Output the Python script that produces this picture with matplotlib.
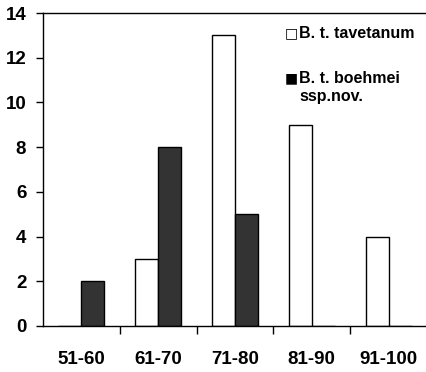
import numpy as np
import matplotlib
matplotlib.use('Agg')
from matplotlib import pyplot as plt

plt.rcParams['font.family'] = ['Liberation Sans', 'DejaVu Sans']
plt.rcParams['font.weight'] = 'bold'

# size classes and counts
classes = ['51-60', '61-70', '71-80', '81-90', '91-100']
tavetanum = [0, 3, 13, 9, 4]
boehmei = [2, 8, 5, 0, 0]

fig = plt.figure(figsize=(4.27, 3.72), dpi=100)
ax = fig.add_axes([0.1007, 0.1237, 0.8993, 0.8413])

x = np.arange(len(classes)) + 0.5
w = 0.3
ax.bar(x - w / 2, tavetanum, w, color='white', edgecolor='black', linewidth=1.0)
ax.bar(x + w / 2, boehmei, w, color='#333333', edgecolor='black', linewidth=1.0)

ax.set_xlim(0, len(classes))
ax.set_ylim(0, 14)
ax.set_yticks(range(0, 15, 2))
ax.set_xticks(range(1, len(classes)))
ax.set_xticklabels([])
ax.set_xticks(x, minor=True)
ax.set_xticklabels(classes, minor=True)
ax.tick_params(axis='x', which='major', direction='out', length=6, width=1)
ax.tick_params(axis='x', which='minor', length=0, pad=18, labelsize=13.5)
ax.tick_params(axis='y', direction='out', length=5, width=1, pad=7, labelsize=13.5)
ax.spines['right'].set_visible(False)
for s in ['left', 'bottom', 'top']:
    ax.spines[s].set_linewidth(1.0)

# legend drawn as text
ax.text(0.630, 0.936, '\u25a1', transform=ax.transAxes, fontsize=10, va='center', ha='left',
        family=['DejaVu Sans'])
ax.text(0.667, 0.936, 'B. t. tavetanum', transform=ax.transAxes, fontsize=11.5, va='center', ha='left')
ax.text(0.630, 0.792, '\u25a0', transform=ax.transAxes, fontsize=10, va='center', ha='left',
        family=['DejaVu Sans'])
ax.text(0.667, 0.792, 'B. t. boehmei', transform=ax.transAxes, fontsize=11.5, va='center', ha='left')
ax.text(0.667, 0.732, 'ssp.nov.', transform=ax.transAxes, fontsize=11.5, va='center', ha='left')

fig.savefig('out.png', dpi=100)
